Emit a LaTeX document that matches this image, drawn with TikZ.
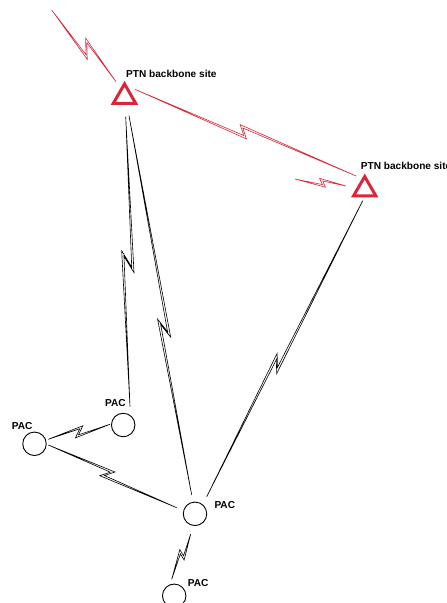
\documentclass[tikz,border=0pt]{standalone}
\usepackage{fontspec}
\setmainfont{Liberation Sans}
\usetikzlibrary{calc,shapes.geometric}
\definecolor{ptnred}{RGB}{218,38,56}
\def\bw{1.1}
% #1 colour, #2 start, #3 end, #4 fraction of zig centre, #5 half back length, #6 sign, #7 amplitude
\newcommand{\bolt}[7]{%
  \pgfmathsetmacro\bAp{(#6)*(#7)}%
  \pgfmathsetmacro\bAn{-(#6)*(#7)}%
  \pgfmathsetmacro\bIp{(#6)*((#7)-2*\bw)}%
  \pgfmathsetmacro\bIn{-(#6)*((#7)-2*\bw)}%
  \pgfmathsetmacro\bdl{2*(#5)*\bw/(#7)+1.5}%
  \pgfmathsetmacro\bFo{#5}%
  \pgfmathsetmacro\bBo{-(#5)}%
  \pgfmathsetmacro\bFi{(#5)-\bdl}%
  \pgfmathsetmacro\bBi{\bdl-(#5)}%
  \path ($(#2)!#4!(#3)$) coordinate (bm);
  \path ($(bm)!\bFo bp!(#3)$) coordinate (bF);
  \path ($(bm)!\bBo bp!(#3)$) coordinate (bB);
  \path ($(bm)!\bFi bp!(#3)$) coordinate (bFi);
  \path ($(bm)!\bBi bp!(#3)$) coordinate (bBi);
  \path ($(bF)!\bAp bp!90:(#3)$) coordinate (bT1);
  \path ($(bFi)!\bIp bp!90:(#3)$) coordinate (bI1);
  \path ($(bB)!\bAn bp!90:(#3)$) coordinate (bT2);
  \path ($(bBi)!\bIn bp!90:(#3)$) coordinate (bI2);
  \draw[boltline,#1] (#2) -- (bT1) -- (bI2) -- (#3) -- (bT2) -- (bI1) -- cycle;
}
\tikzset{
  boltline/.style={line width=0.6bp, fill=white, line join=miter},
  site/.style={regular polygon, regular polygon sides=3, minimum size=25.9bp,
    inner sep=0pt, outer sep=0pt, draw=ptnred, line width=3bp},
  pac/.style={circle, minimum size=23.5bp, inner sep=0pt, draw=black, line width=0.9bp},
  lbl/.style={inner sep=0pt, anchor=base west, font=\bfseries\fontsize{10.1bp}{11bp}\selectfont}
}
\begin{document}
\begin{tikzpicture}[x=1bp,y=-1bp]
\useasboundingbox (0,0) rectangle (447,603);
% nodes
\node[site] (A) at (124.5,96.9) {};
\node[site] (B) at (364.7,189.5) {};
\node[pac] (P1) at (34.5,443.8) {};
\node[pac] (P2) at (123.2,425) {};
\node[pac] (P3) at (195,513.8) {};
\node[pac] (P4) at (174.2,595.8) {};
% labels
\node[lbl] (LA) at ($(A)+(1.5,-19.6)$) {PTN backbone site};
\node[lbl] (LB) at ($(B)+(-4,-19.5)$) {PTN backbone site};
\node[lbl] (L1) at ($(P1)+(-22.8,-14.8)$) {PAC};
\node[lbl] (L2) at ($(P2)+(-18.2,-18.3)$) {PAC};
\node[lbl] (L3) at ($(P3)+(19.3,-5.5)$) {PAC};
\node[lbl] (L4) at ($(P4)+(13.5,-9.1)$) {PAC};
% link end points
\coordinate (r1s) at (51.7,10);
\coordinate (r1e) at ($(A)+(-8.5,-15.2)$);
\coordinate (r2s) at ($(A)+(10.5,-7.6)$);
\coordinate (r2e) at ($(B)+(-8.7,-13.5)$);
\coordinate (r3s) at (295,179);
\coordinate (r3e) at ($(B)+(-18.7,-3.5)$);
\coordinate (a2s) at ($(A)+(1.2,19.8)$);
\coordinate (a2e) at ($(P2)+(6.8,-18.3)$);
\coordinate (a3s) at ($(A)+(4.5,18.8)$);
\coordinate (a3e) at ($(P3)+(-3.3,-18.8)$);
\coordinate (b3s) at ($(B)+(-2,11.2)$);
\coordinate (b3e) at ($(P3)+(11.7,-17.1)$);
\coordinate (p12s) at ($(P1)+(13.8,-4.5)$);
\coordinate (p12e) at ($(P2)+(-13.2,-0.7)$);
\coordinate (p13s) at ($(P1)+(13.8,1.2)$);
\coordinate (p13e) at ($(P3)+(-18.3,-6.1)$);
\coordinate (p34s) at ($(P3)+(-4.3,20.2)$);
\coordinate (p34e) at ($(P4)+(-2.5,-16.5)$);
% red links
\bolt{draw=ptnred}{r1s}{r1e}{0.54}{8.5}{-1}{6.5}
\bolt{draw=ptnred}{r2s}{r2e}{0.49}{5.5}{-1}{5.5}
\bolt{draw=ptnred}{r3s}{r3e}{0.54}{3.5}{-1}{4}
% black links
\bolt{draw=black}{a2s}{a2e}{0.50}{11}{1}{6}
\bolt{draw=black}{a3s}{a3e}{0.56}{10}{1}{5}
\bolt{draw=black}{b3s}{b3e}{0.55}{9}{1}{4.5}
\bolt{draw=black}{p12s}{p12e}{0.50}{5}{1}{5}
\bolt{draw=black}{p13s}{p13e}{0.46}{6}{1}{5}
\bolt{draw=black}{p34s}{p34e}{0.46}{4}{1}{4}
\end{tikzpicture}
\end{document}
